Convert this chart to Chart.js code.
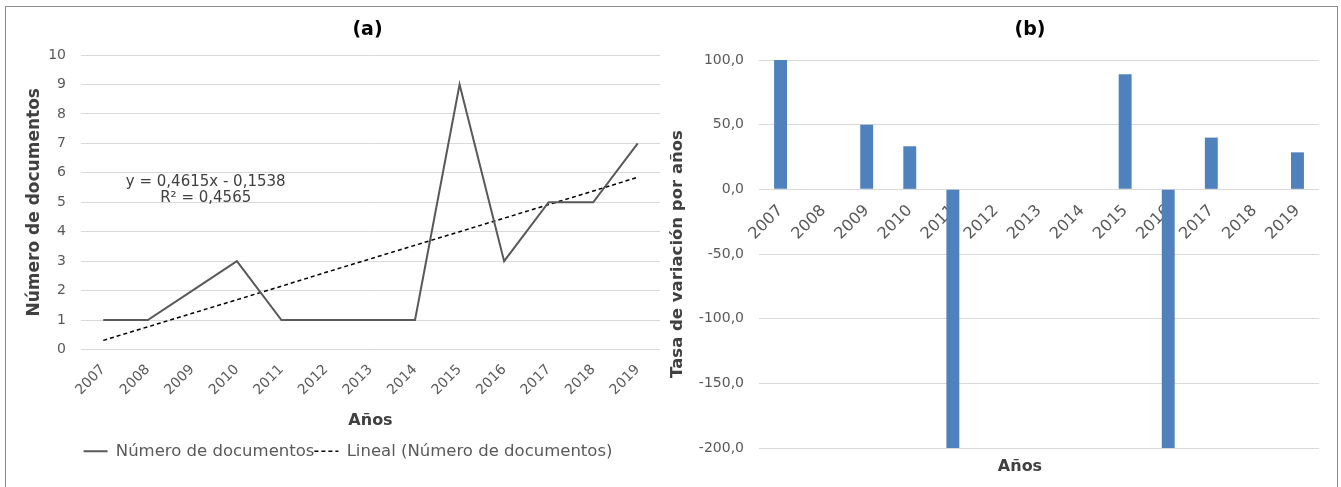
<!DOCTYPE html>
<html>
<head>
<meta charset="utf-8">
<script src="https://cdn.jsdelivr.net/npm/chart.js@4.4.0/dist/chart.umd.min.js"></script>
<style>
  html, body { margin: 0; padding: 0; background: #fff; }
  body { width: 1341px; height: 487px; position: relative; overflow: hidden; }
  #frame { position: absolute; left: 5px; top: 6px; width: 1333px; height: 495px; border: 1px solid #8c8c8c; box-sizing: border-box; }
  .box { position: absolute; top: 7px; height: 480px; }
  #boxA { left: 6px; width: 660px; }
  #boxB { left: 662px; width: 676px; }
</style>
</head>
<body>
<div id="frame"></div>
<div class="box" id="boxA"><canvas id="chartA"></canvas></div>
<div class="box" id="boxB"><canvas id="chartB"></canvas></div>
<script>
// Data
const years = ['2007', '2008', '2009', '2010', '2011', '2012', '2013',
               '2014', '2015', '2016', '2017', '2018', '2019'];
const documentos = [1, 1, 2, 3, 1, 1, 1, 1, 9, 3, 5, 5, 7];
// linear trend line as drawn (y = 0,4615x - 0,1538)
const tendencia = [0.31, 0.77, 1.23, 1.69, 2.15, 2.62, 3.08, 3.54, 4.00, 4.46, 4.92, 5.38, 5.85];
const tasaVariacion = [100, 0, 50, 33.3, -200, 0, 0, 0, 88.9, -200, 40, 0, 28.6];
const ecuacion = ['y = 0,4615x - 0,1538', 'R² = 0,4565'];

const FONT = "'DejaVu Sans', Verdana, sans-serif";
const TICK_COLOR = '#595959';
const TITLE_COLOR = '#404040';
const GRID_COLOR = '#d9d9d9';

Chart.defaults.font.family = FONT;
Chart.defaults.animation = false;

// Draws free captions (panel title, bottom axis title) relative to the plot area centre
const captionPlugin = {
  id: 'captions',
  afterDraw(chart, args, opts) {
    const { ctx, chartArea } = chart;
    const cx = (chartArea.left + chartArea.right) / 2;
    ctx.save();
    ctx.textAlign = 'center';
    ctx.textBaseline = 'middle';
    (opts.items || []).forEach(item => {
      ctx.font = item.font;
      ctx.fillStyle = item.color;
      ctx.fillText(item.text, cx + item.dx, item.y);
    });
    ctx.restore();
  }
};

// Trend equation placed in data coordinates
const trendLabelPlugin = {
  id: 'trendLabel',
  afterDatasetsDraw(chart, args, opts) {
    if (!opts.lines) return;
    const { ctx, scales } = chart;
    ctx.save();
    ctx.font = '15px ' + FONT;
    ctx.fillStyle = TITLE_COLOR;
    ctx.textAlign = 'center';
    ctx.textBaseline = 'middle';
    opts.lines.forEach((text, i) => {
      ctx.fillText(text, scales.x.getPixelForValue(opts.x), scales.y.getPixelForValue(opts.y[i]));
    });
    ctx.restore();
  }
};

// legend entries keep the dataset's dash and width (point style would drop them)
function lineLegendLabels(chart) {
  const items = Chart.defaults.plugins.legend.labels.generateLabels(chart);
  return items.map((item, i) => {
    const ds = chart.data.datasets[i];
    return Object.assign(item, {
      lineDash: ds.borderDash || [],
      lineWidth: ds.borderWidth,
      strokeStyle: ds.borderColor,
      fillStyle: ds.borderColor
    });
  });
}

new Chart(document.getElementById('chartA'), {
  type: 'line',
  data: {
    labels: years,
    datasets: [{
      label: 'Número de documentos',
      data: documentos,
      borderColor: '#595959',
      backgroundColor: '#595959',
      borderWidth: 2,
      pointRadius: 0,
      tension: 0
    }, {
      label: 'Lineal (Número de documentos)',
      data: tendencia,
      borderColor: '#000000',
      backgroundColor: '#000000',
      borderWidth: 1.5,
      borderDash: [4, 3],
      pointRadius: 0,
      tension: 0
    }]
  },
  options: {
    responsive: true,
    maintainAspectRatio: false,
    layout: { padding: { left: 30, right: 6, top: 48, bottom: 17.5 } },
    plugins: {
      title: { display: false },
      tooltip: { enabled: false },
      legend: {
        position: 'bottom',
        labels: {
          usePointStyle: true,
          pointStyle: 'line',
          pointStyleWidth: 24,
          padding: 0,
          color: TICK_COLOR,
          font: { size: 16.5 },
          generateLabels: lineLegendLabels
        }
      },
      captions: {
        items: [{ text: '(a)', dx: -3, y: 23, font: 'bold 19px ' + FONT, color: '#000' }]
      },
      trendLabel: { lines: ecuacion, x: 2.3, y: [5.68, 5.14] }
    },
    scales: {
      x: {
        offset: true,
        grid: { display: false },
        border: { display: false },
        ticks: { color: TICK_COLOR, font: { size: 14 }, maxRotation: 45, minRotation: 45, padding: 4 },
        title: {
          display: true, text: 'Años', color: TITLE_COLOR,
          font: { size: 16, weight: 'bold' }, padding: { top: 4, bottom: 12.9 }
        },
        afterFit: (scale) => { scale.height = 93.5; }
      },
      y: {
        min: 0,
        max: 10,
        grid: { color: GRID_COLOR, drawTicks: false },
        border: { display: false },
        ticks: { stepSize: 1, color: TICK_COLOR, font: { size: 14 }, padding: 15 },
        title: {
          display: true, text: 'Número de documentos', color: TITLE_COLOR,
          font: { size: 17, weight: 'bold' }, padding: { top: -11.7, bottom: 0 }
        },
        afterFit: (scale) => { scale.width = 45; }
      }
    }
  },
  plugins: [captionPlugin, trendLabelPlugin]
});

new Chart(document.getElementById('chartB'), {
  type: 'bar',
  data: {
    labels: years,
    datasets: [{
      label: 'Tasa de variación',
      data: tasaVariacion,
      backgroundColor: '#4f81bd',
      barPercentage: 0.3,
      categoryPercentage: 1
    }]
  },
  options: {
    responsive: true,
    maintainAspectRatio: false,
    layout: { padding: { left: 0, right: 19, top: 53, bottom: 39 } },
    plugins: {
      legend: { display: false },
      tooltip: { enabled: false },
      captions: {
        items: [
          { text: '(b)', dx: -9, y: 23, font: 'bold 19px ' + FONT, color: '#000' },
          { text: 'Años', dx: -19, y: 460, font: 'bold 16px ' + FONT, color: TITLE_COLOR }
        ]
      }
    },
    scales: {
      x: {
        position: { y: 0 },
        grid: { display: false },
        border: { display: false },
        ticks: { color: TICK_COLOR, font: { size: 16 }, maxRotation: 45, minRotation: 45, padding: 4 }
      },
      y: {
        min: -200,
        max: 100,
        grid: { color: GRID_COLOR, drawTicks: false },
        border: { display: false },
        ticks: {
          stepSize: 50, color: TICK_COLOR, font: { size: 14 }, padding: 15,
          callback: (v) => v.toFixed(1).replace('.', ',')
        },
        title: {
          display: true, text: 'Tasa de variación por años', color: TITLE_COLOR,
          font: { size: 16.5, weight: 'bold' }, padding: { top: 6, bottom: 0 }
        },
        afterFit: (scale) => { scale.width = 97; }
      }
    }
  },
  plugins: [captionPlugin]
});
</script>
</body>
</html>
